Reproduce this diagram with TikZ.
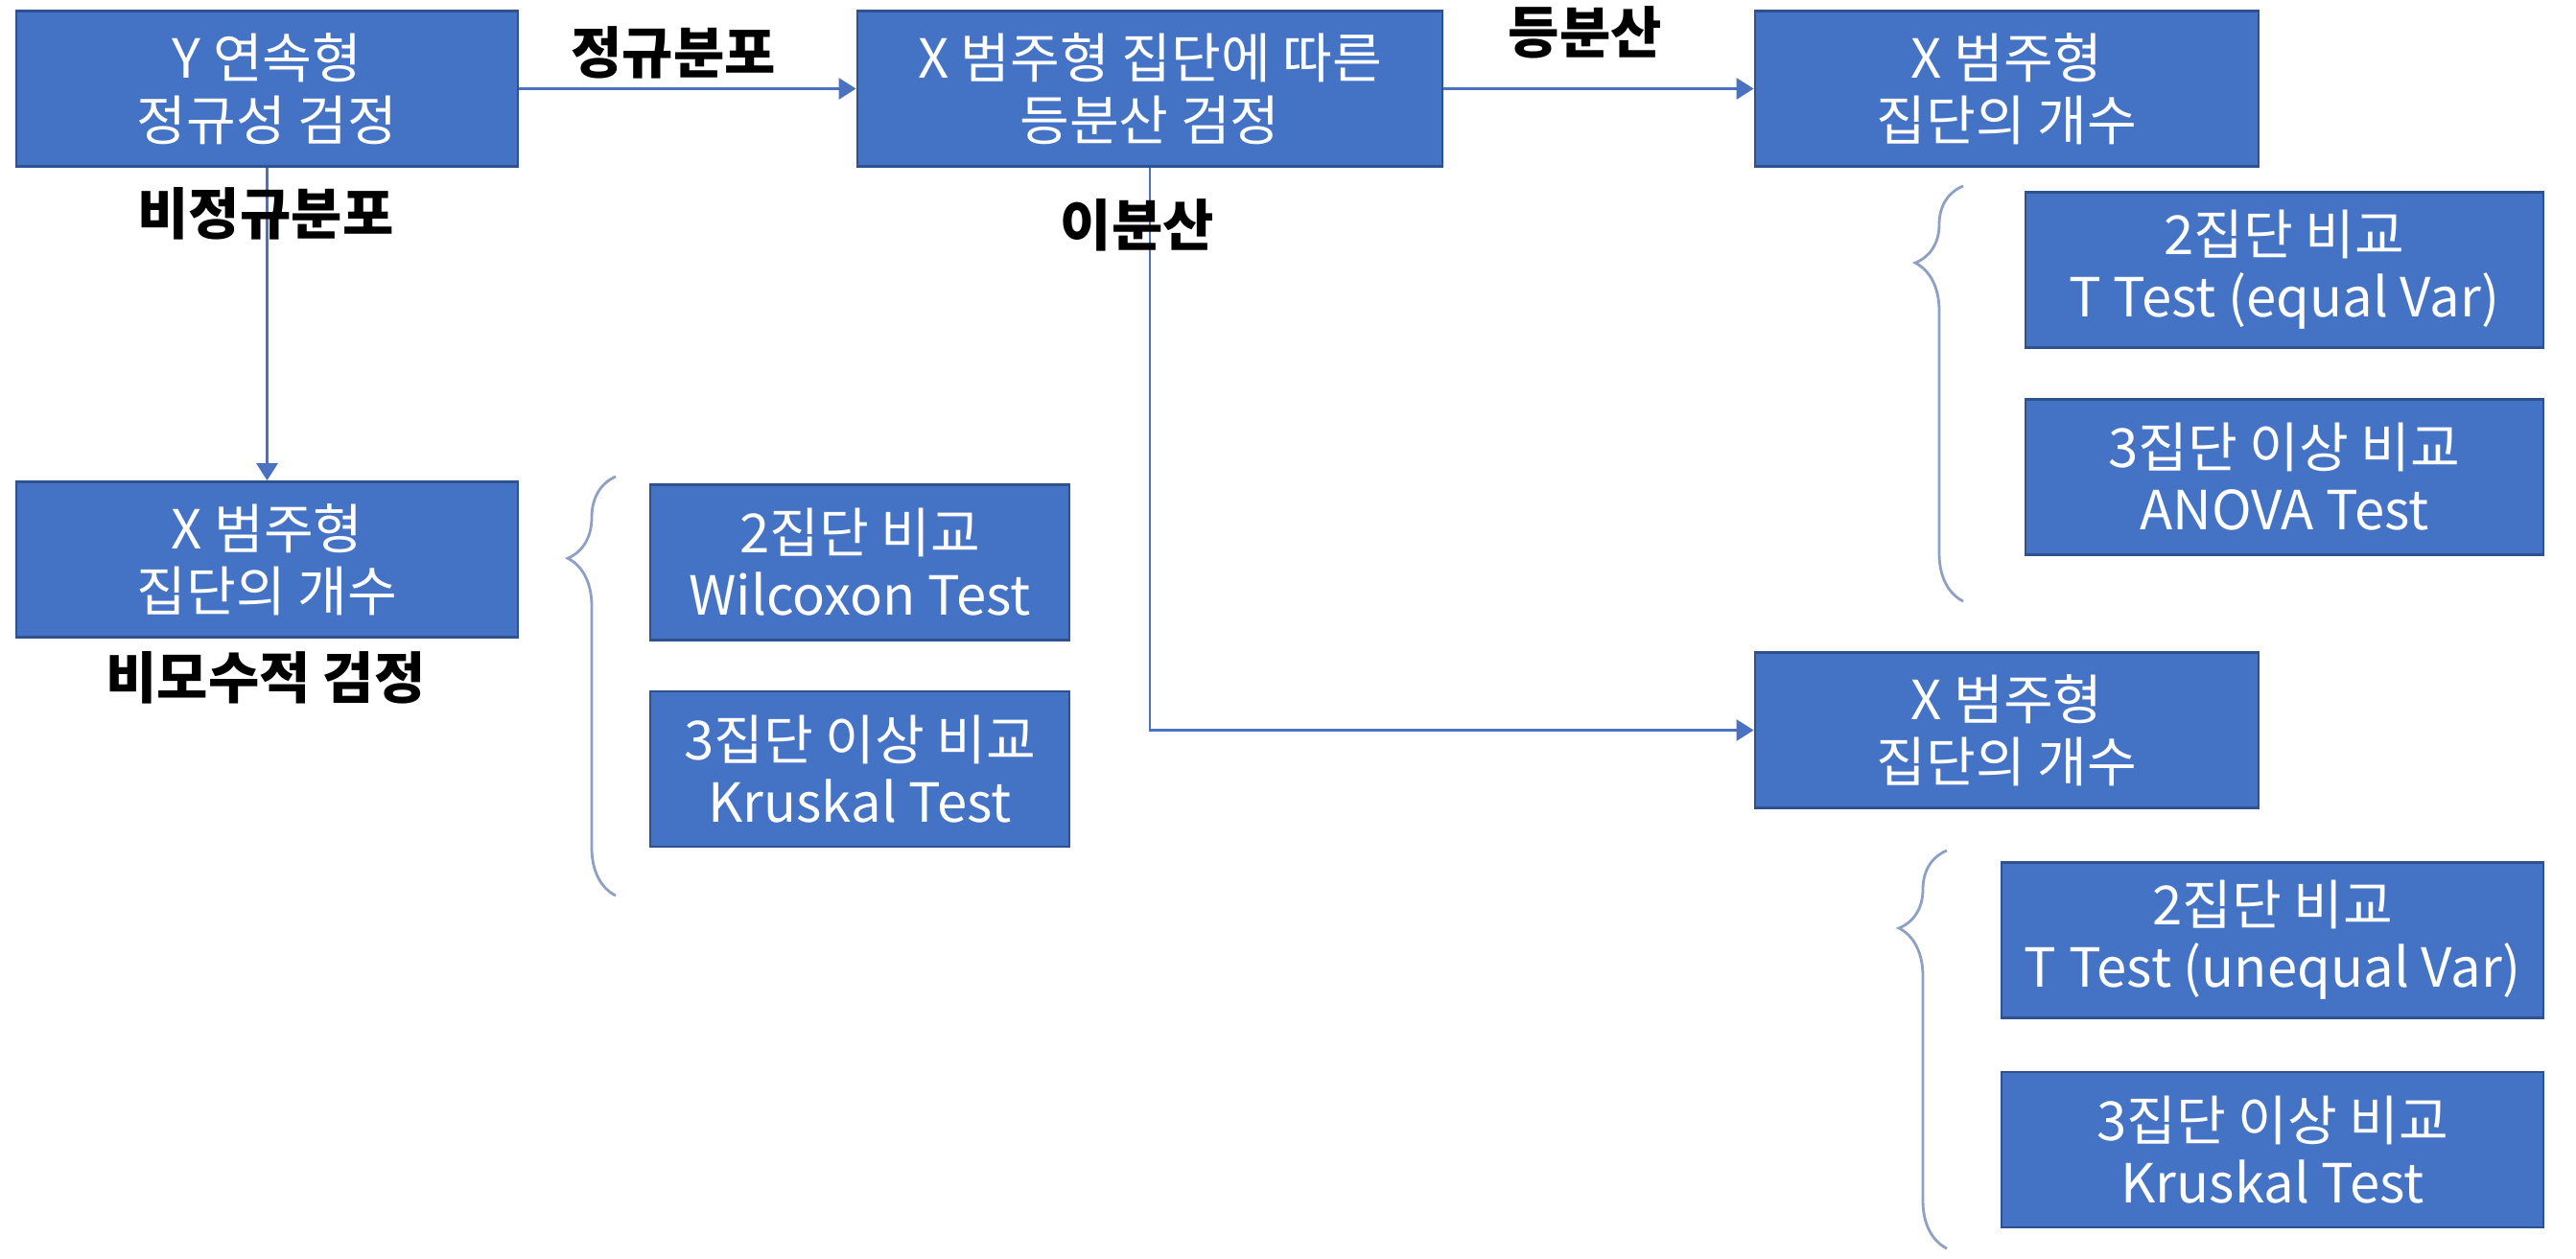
\documentclass[tikz,border=0pt]{standalone}
\usepackage{fontspec}
\setmainfont{Noto Sans CJK KR}
\usetikzlibrary{arrows.meta,decorations.pathreplacing}
\definecolor{boxblue}{HTML}{4472C4}
\definecolor{boxedge}{HTML}{2F528F}
\definecolor{linkblue}{HTML}{4A72C0}
\definecolor{bracegray}{HTML}{8EA0C4}

\begin{document}
\begin{tikzpicture}[
	box/.style={draw=boxedge, line width=0.8pt, fill=boxblue, text=white, align=center, minimum height=1.62cm, inner sep=0pt, font=\fontsize{16}{18.5}\selectfont},
	link/.style={draw=linkblue, line width=0.8pt, -{Triangle[length=0.18cm,width=0.22cm]}},
	tag/.style={font=\fontsize{16.5}{18}\selectfont\bfseries},
	curly/.style={draw=bracegray, line width=0.8pt, decorate, decoration={brace, amplitude=0.5cm, aspect=#1}}
	]
	\useasboundingbox (0,0) rectangle (26.86,-13.12);
				\node[box, minimum width=5.23cm] (ytest) at (2.785,-0.925) {Y 연속형\\정규성 검정};
				\node[box, minimum width=6.10cm] (vartest) at (11.99,-0.925) {X 범주형 집단에 따른\\등분산 검정};
				\node[box, minimum width=5.25cm] (eqgroups) at (20.925,-0.925) {X 범주형\\집단의 개수};
				\node[box, minimum width=5.40cm] (eqtwo) at (23.82,-2.815) {2집단 비교\\T Test (equal Var)};
				\node[box, minimum width=5.40cm] (eqmany) at (23.82,-4.975) {3집단 이상 비교\\ANOVA Test};
				\node[box, minimum width=5.25cm] (neqgroups) at (20.925,-7.615) {X 범주형\\집단의 개수};
				\node[box, minimum width=5.65cm] (neqtwo) at (23.695,-9.805) {2집단 비교\\T Test (unequal Var)};
				\node[box, minimum width=5.65cm] (neqmany) at (23.695,-11.99) {3집단 이상 비교\\Kruskal Test};
				\node[box, minimum width=5.23cm] (npgroups) at (2.785,-5.835) {X 범주형\\집단의 개수};
				\node[box, minimum width=4.37cm] (nptwo) at (8.965,-5.865) {2집단 비교\\Wilcoxon Test};
				\node[box, minimum width=4.37cm] (npmany) at (8.965,-8.02) {3집단 이상 비교\\Kruskal Test};
				\draw[link] (ytest) -- (vartest);
				\draw[link] (vartest) -- (eqgroups);
				\draw[link] (ytest) -- (npgroups);
				\draw[link] (vartest.south) |- (neqgroups);
				\node[tag] (normal) at (7.02,-0.55) {정규분포};
				\node[tag] (equalvar) at (16.53,-0.34) {등분산};
				\node[tag] (unequalvar) at (11.86,-2.35) {이분산};
				\node[tag] (nonnormal) at (2.77,-2.23) {비정규분포};
				\node[tag] (nonparam) at (2.77,-7.07) {비모수적 검정};
				\draw[curly=0.805] (6.42,-9.34) -- (6.42,-4.97);
				\draw[curly=0.815] (20.47,-6.27) -- (20.47,-1.94);
				\draw[curly=0.805] (20.30,-13.02) -- (20.30,-8.87);
			\end{tikzpicture}
\end{document}
